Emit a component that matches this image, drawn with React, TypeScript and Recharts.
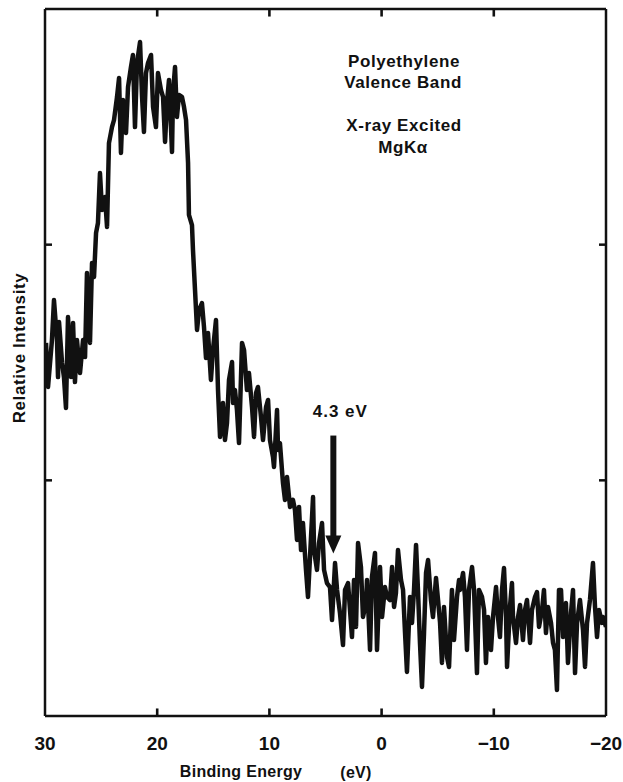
import React from 'react';
import { LineChart, Line, XAxis, YAxis, ReferenceLine, ReferenceDot } from 'recharts';

// Binding energy (eV) and relative intensity
const energies = [
  29.91, 29.73, 29.38, 29.2, 28.93, 28.84, 28.75, 28.48, 28.31, 28.13, 27.95, 27.68, 27.5, 27.33, 27.15,
  26.88, 26.61, 26.43, 26.26, 25.99, 25.81, 25.63, 25.45, 25.28, 25.1, 24.92, 24.65, 24.47, 24.3, 24.03,
  23.85, 23.58, 23.4, 23.23, 23.05, 22.78, 22.6, 22.34, 22.16, 21.98, 21.8, 21.53, 21.35, 21.18, 21.0,
  20.82, 20.55, 20.37, 20.11, 19.93, 19.66, 19.48, 19.3, 19.13, 18.95, 18.68, 18.59, 18.41, 18.24, 18.06,
  17.79, 17.61, 17.43, 17.25, 17.17, 16.9, 16.81, 16.63, 16.45, 16.27, 16.01, 15.83, 15.65, 15.47, 15.21,
  15.03, 14.76, 14.58, 14.4, 14.14, 13.96, 13.78, 13.6, 13.33, 13.24, 13.07, 12.89, 12.71, 12.44, 12.26,
  12.0, 11.82, 11.55, 11.37, 11.19, 11.02, 10.75, 10.57, 10.3, 10.12, 9.95, 9.68, 9.59, 9.32, 9.23,
  9.06, 8.88, 8.79, 8.61, 8.43, 8.16, 7.9, 7.72, 7.54, 7.36, 7.18, 7.01, 6.74, 6.56, 6.29,
  6.11, 6.02, 5.76, 5.58, 5.31, 5.13, 4.87, 4.6, 4.42, 4.15, 3.97, 3.71, 3.44, 3.26, 2.99,
  2.64, 2.46, 2.28, 2.1, 1.84, 1.66, 1.39, 1.3, 1.03, 0.86, 0.59, 0.41, 0.14, -0.04, -0.3,
  -0.48, -0.75, -0.93, -1.11, -1.28, -1.46, -1.73, -1.91, -2.09, -2.26, -2.53, -2.71, -2.89, -3.07, -3.24,
  -3.42, -3.6, -3.78, -3.96, -4.14, -4.4, -4.58, -4.85, -5.03, -5.21, -5.38, -5.56, -5.83, -6.01, -6.27,
  -6.45, -6.72, -6.9, -6.99, -7.26, -7.43, -7.61, -7.79, -8.06, -8.24, -8.5, -8.68, -8.95, -9.13, -9.3,
  -9.48, -9.75, -9.93, -10.2, -10.37, -10.55, -10.73, -10.91, -11.09, -11.18, -11.44, -11.62, -11.71, -11.98, -12.16,
  -12.34, -12.6, -12.78, -12.96, -13.23, -13.4, -13.67, -13.85, -14.03, -14.3, -14.47, -14.65, -14.83, -15.1, -15.28,
  -15.45, -15.63, -15.81, -15.99, -16.17, -16.43, -16.61, -16.88, -17.06, -17.24, -17.42, -17.68, -17.95, -18.13, -18.31,
  -18.57, -18.84, -19.02, -19.2, -19.38, -19.64, -19.73, -20.0,
];

const intensities = [
  158.3, 139.6, 159.5, 176.5, 159.5, 143.8, 167.2, 149.8, 143.8, 130.7, 169.3, 143.8, 166.8, 141.7, 159.5,
  145.5, 159.5, 152.3, 188.0, 158.3, 192.2, 186.3, 205.0, 209.2, 230.4, 214.7, 220.2, 207.5, 243.1, 249.9,
  252.9, 262.7, 270.7, 238.9, 261.4, 247.4, 266.9, 275.4, 280.5, 249.9, 277.1, 286.0, 262.7, 247.8, 272.8,
  277.1, 280.5, 258.4, 249.9, 272.8, 265.6, 262.7, 243.6, 260.1, 269.9, 239.3, 264.4, 275.4, 254.2, 263.5,
  262.7, 258.4, 252.9, 234.7, 212.6, 208.3, 197.7, 180.8, 163.8, 172.3, 175.2, 165.1, 151.9, 162.5, 142.6,
  155.3, 168.0, 138.3, 118.4, 132.8, 117.1, 124.3, 142.6, 150.2, 132.8, 138.3, 129.8, 115.8, 158.3, 155.3,
  138.3, 145.5, 131.1, 118.4, 137.1, 139.6, 126.9, 117.1, 131.1, 134.1, 117.1, 109.9, 105.7, 129.8, 112.9,
  115.8, 104.4, 98.9, 91.7, 101.4, 88.7, 91.7, 87.4, 74.7, 88.7, 70.4, 81.9, 62.0, 50.5, 76.0,
  92.9, 70.4, 62.0, 73.4, 81.9, 62.0, 56.4, 54.7, 40.7, 64.9, 53.5, 43.7, 30.1, 53.5, 56.4,
  33.5, 57.7, 37.8, 73.4, 63.2, 42.0, 47.9, 57.7, 28.0, 59.0, 69.2, 28.0, 63.2, 42.0, 54.7,
  50.5, 49.2, 63.2, 46.3, 52.2, 70.4, 57.7, 53.5, 35.2, 18.7, 50.5, 39.5, 53.5, 72.6, 53.5,
  31.0, 12.3, 35.2, 60.7, 66.2, 49.2, 42.0, 58.6, 49.2, 39.5, 22.5, 46.3, 25.0, 20.8, 53.5,
  32.2, 50.5, 57.7, 53.5, 60.7, 50.5, 28.0, 53.5, 63.2, 53.5, 18.2, 53.5, 50.5, 45.0, 22.5,
  42.0, 28.0, 42.0, 54.7, 42.0, 33.5, 53.5, 62.8, 42.0, 20.8, 46.3, 56.4, 42.0, 31.0, 42.0,
  47.1, 32.2, 45.0, 49.2, 31.0, 45.0, 50.5, 52.6, 37.8, 45.0, 53.5, 35.2, 46.3, 39.5, 31.0,
  28.0, 11.0, 53.5, 53.5, 33.5, 47.9, 22.5, 43.7, 53.5, 18.2, 39.5, 49.2, 36.5, 20.8, 39.5,
  49.2, 64.9, 46.3, 33.5, 45.0, 39.5, 42.0, 37.8,
];

const xTicks = [30, 20, 10, 0, -10, -20];
const innerXTicks = [20, 10, 0, -10];
const yTicks = [100, 200];
const xDomain = [-20, 30];
const yDomain = [0, 300];
const tickAnchorInset = 1.5; // data units from the frame edge: centre of each inward tick

const arrowEnergy = 4.3;
const arrowLabel = '4.3 eV';
const arrowShaftTop = 119;
const arrowShaftBottom = 75;
const arrowTip = 69;
const arrowLabelLevel = 129;

const annotationLines = ['Polyethylene', 'Valence Band', 'X-ray Excited', 'MgKα'];
const xAxisTitle = 'Binding Energy';
const xAxisUnit = '(eV)';
const yAxisTitle = 'Relative Intensity';

const data = energies.map((e, i) => ({ e, v: intensities[i] }));

const FONT = '"Liberation Sans", Arial, Helvetica, sans-serif';
const INK = '#111';

const fmt = (v: number) => (v < 0 ? '\u2212' + Math.abs(v) : String(v));

const NoLabel = () => <g />;

// short vertical bar centred on the anchor point
const TickMark = (p: any) => {
  const { cx, cy } = p;
  return (
    <polygon
      points={`${cx - 1.3},${cy - 4} ${cx + 1.3},${cy - 4} ${cx + 1.3},${cy + 4} ${cx - 1.3},${cy + 4}`}
      fill={INK}
    />
  );
};

const ArrowHead = (p: any) => {
  const { cx, cy } = p;
  return <polygon points={`${cx - 8},${cy - 18} ${cx + 8},${cy - 18} ${cx},${cy}`} fill={INK} />;
};

const ArrowText = (p: any) => {
  const { cx, cy } = p;
  return (
    <text x={cx + 7} y={cy} textAnchor="middle" dominantBaseline="central" fill={INK}
      style={{ fontFamily: FONT, fontWeight: 700, fontSize: 17, letterSpacing: 1 }}>
      {arrowLabel}
    </text>
  );
};

const textStyle: React.CSSProperties = {
  position: 'absolute',
  fontFamily: FONT,
  fontWeight: 700,
  fontSize: 17,
  letterSpacing: 0.6,
  color: INK,
  whiteSpace: 'nowrap',
  transform: 'translate(-50%, -50%)',
  lineHeight: 1,
};

const annotationPos = [
  [404, 61],
  [403, 82],
  [404, 125],
  [403, 147],
];

const innerTick = { stroke: INK, strokeWidth: 2.5 };
const frame = { stroke: INK, strokeWidth: 2.5 };

export default function App() {
  return (
    <div style={{ position: 'absolute', left: 0, top: 0, width: 623, height: 782, background: '#fff', overflow: 'hidden' }}>
      <LineChart width={623} height={782} data={data} margin={{ top: 9, right: 17, left: 45, bottom: 26 }}>
        <XAxis
          xAxisId="main"
          dataKey="e"
          type="number"
          domain={xDomain}
          reversed
          ticks={xTicks}
          interval={0}
          allowDataOverflow
          tickLine={false}
          tickSize={0}
          tickMargin={21}
          height={40}
          axisLine={frame}
          tick={{ fill: INK, fontSize: 19, fontWeight: 700, fontFamily: FONT }}
          tickFormatter={fmt}
        />
        <XAxis
          xAxisId="top"
          orientation="top"
          mirror
          type="number"
          domain={xDomain}
          reversed
          allowDataOverflow
          tick={NoLabel}
          tickLine={false}
          axisLine={frame}
        />
        <YAxis
          yAxisId="main"
          orientation="left"
          mirror
          type="number"
          domain={yDomain}
          ticks={yTicks}
          interval={0}
          allowDataOverflow
          tick={NoLabel}
          tickSize={7}
          tickLine={innerTick}
          axisLine={frame}
        />
        <YAxis
          yAxisId="right"
          dataKey="v"
          orientation="right"
          mirror
          type="number"
          domain={yDomain}
          ticks={yTicks}
          interval={0}
          allowDataOverflow
          tick={NoLabel}
          tickSize={7}
          tickLine={innerTick}
          axisLine={frame}
        />
        <Line
          xAxisId="main"
          yAxisId="main"
          type="linear"
          dataKey="v"
          stroke={INK}
          strokeWidth={4.5}
          strokeLinejoin="round"
          dot={false}
          activeDot={false}
          isAnimationActive={false}
        />
        {innerXTicks.map((t) => (
          <ReferenceDot key={`b${t}`} xAxisId="main" yAxisId="main" x={t}
            y={yDomain[0] + tickAnchorInset} r={1} shape={TickMark} />
        ))}
        {innerXTicks.map((t) => (
          <ReferenceDot key={`t${t}`} xAxisId="main" yAxisId="main" x={t}
            y={yDomain[1] - tickAnchorInset} r={1} shape={TickMark} />
        ))}
        <ReferenceLine
          xAxisId="main"
          yAxisId="main"
          segment={[{ x: arrowEnergy, y: arrowShaftTop }, { x: arrowEnergy, y: arrowShaftBottom }]}
          stroke={INK}
          strokeWidth={6}
        />
        <ReferenceDot xAxisId="main" yAxisId="main" x={arrowEnergy} y={arrowTip} r={1} shape={ArrowHead} />
        <ReferenceDot xAxisId="main" yAxisId="main" x={arrowEnergy} y={arrowLabelLevel} r={1} shape={ArrowText} />
      </LineChart>
      {annotationLines.map((t, i) => (
        <div key={t} style={{ ...textStyle, left: annotationPos[i][0], top: annotationPos[i][1] }}>{t}</div>
      ))}
      <div style={{ ...textStyle, fontSize: 16, letterSpacing: 0.3, left: 241, top: 772 }}>{xAxisTitle}</div>
      <div style={{ ...textStyle, fontSize: 16, letterSpacing: 0.3, left: 356, top: 773 }}>{xAxisUnit}</div>
      <div style={{ ...textStyle, left: 19, top: 348, transform: 'translate(-50%, -50%) rotate(-90deg)' }}>{yAxisTitle}</div>
    </div>
  );
}
